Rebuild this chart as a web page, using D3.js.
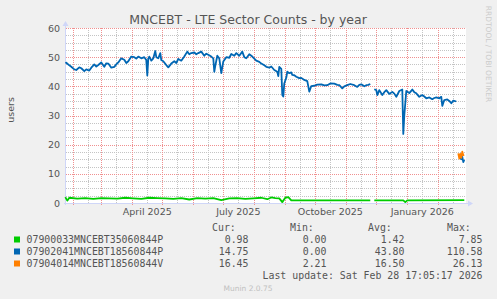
<!DOCTYPE html>
<html>
<head>
<meta charset="utf-8">
<script src="https://cdn.jsdelivr.net/npm/d3@7"></script>
<style>
  body { margin: 0; background: #f0f0f0; }
  svg { display: block; }
</style>
</head>
<body>
<svg id="drawing_region"></svg>
<script>
// values
const greenData = [
    ["2025-01-24", 2.0], ["2025-01-26", 0.8], ["2025-01-28", 1.8], ["2025-02-05", 1.5],
    ["2025-02-13", 1.7], ["2025-02-21", 1.4], ["2025-03-01", 1.7], ["2025-03-09", 1.6],
    ["2025-03-17", 1.5], ["2025-03-25", 1.8], ["2025-04-02", 1.6], ["2025-04-10", 1.4],
    ["2025-04-18", 1.8], ["2025-04-26", 1.7], ["2025-05-04", 1.6], ["2025-05-12", 1.4],
    ["2025-05-20", 1.7], ["2025-05-28", 1.2], ["2025-06-05", 1.7], ["2025-06-13", 1.5],
    ["2025-06-21", 1.7], ["2025-06-29", 1.0], ["2025-07-07", 1.6], ["2025-07-15", 1.7],
    ["2025-07-23", 1.4], ["2025-07-31", 1.6], ["2025-08-08", 1.8], ["2025-08-14", 1.3],
    ["2025-08-18", 1.9], ["2025-08-22", 1.7], ["2025-08-26", 1.6], ["2025-08-29", 0.3],
    ["2025-09-01", 1.8], ["2025-09-04", 2.0], ["2025-09-07", 0.9], ["2025-11-25", 0.9],
    ["2025-11-27", null], ["2025-11-29", 0.9], ["2025-12-28", 0.9], ["2025-12-30", 0.3],
    ["2026-01-01", 0.9], ["2026-02-27", 0.98]
];

const blueData = [
    ["2025-01-24", 48.0], ["2025-01-25", 48.1], ["2025-01-28", 47.2], ["2025-01-30", 46.7],
    ["2025-02-02", 45.8], ["2025-02-04", 45.6], ["2025-02-07", 46.5], ["2025-02-09", 46.2],
    ["2025-02-12", 45.2], ["2025-02-14", 45.8], ["2025-02-17", 45.4], ["2025-02-19", 46.4],
    ["2025-02-22", 47.5], ["2025-02-24", 46.8], ["2025-02-26", 47.3], ["2025-03-01", 48.2],
    ["2025-03-04", 46.7], ["2025-03-06", 47.9], ["2025-03-08", 47.8], ["2025-03-11", 46.4],
    ["2025-03-14", 46.7], ["2025-03-16", 47.5], ["2025-03-18", 48.2], ["2025-03-21", 49.6],
    ["2025-03-24", 49.1], ["2025-03-26", 48.0], ["2025-03-28", 48.6], ["2025-03-31", 50.2],
    ["2025-04-03", 50.0], ["2025-04-05", 49.5], ["2025-04-07", 50.2], ["2025-04-10", 49.6],
    ["2025-04-13", 50.0], ["2025-04-15", 49.0], ["2025-04-16", 43.7], ["2025-04-17", 49.5],
    ["2025-04-18", 50.2], ["2025-04-20", 48.8], ["2025-04-22", 49.6], ["2025-04-24", 52.1],
    ["2025-04-25", 50.0], ["2025-04-27", 49.6], ["2025-04-29", 51.4], ["2025-04-30", 49.0],
    ["2025-05-02", 48.6], ["2025-05-05", 47.3], ["2025-05-07", 46.5], ["2025-05-10", 47.8],
    ["2025-05-13", 48.6], ["2025-05-15", 48.0], ["2025-05-17", 49.4], ["2025-05-20", 48.8],
    ["2025-05-23", 50.2], ["2025-05-26", 51.9], ["2025-05-28", 51.0], ["2025-05-30", 51.4],
    ["2025-06-02", 51.6], ["2025-06-04", 51.0], ["2025-06-06", 51.4], ["2025-06-09", 51.9],
    ["2025-06-12", 50.5], ["2025-06-14", 51.2], ["2025-06-16", 50.8], ["2025-06-19", 50.2],
    ["2025-06-21", 49.6], ["2025-06-22", 45.0], ["2025-06-23", 47.0], ["2025-06-25", 50.5],
    ["2025-06-27", 49.6], ["2025-06-29", 44.5], ["2025-07-01", 48.5], ["2025-07-04", 50.0],
    ["2025-07-07", 49.8], ["2025-07-09", 51.1], ["2025-07-12", 50.5], ["2025-07-14", 51.4],
    ["2025-07-17", 50.5], ["2025-07-20", 51.9], ["2025-07-22", 50.0], ["2025-07-24", 49.6],
    ["2025-07-27", 51.0], ["2025-07-30", 50.2], ["2025-08-01", 49.5], ["2025-08-03", 48.8],
    ["2025-08-06", 48.4], ["2025-08-08", 47.8], ["2025-08-11", 47.2], ["2025-08-13", 46.7],
    ["2025-08-16", 46.4], ["2025-08-18", 46.8], ["2025-08-21", 45.6], ["2025-08-24", 45.0],
    ["2025-08-25", 43.5], ["2025-08-26", 46.7], ["2025-08-28", 46.0], ["2025-08-29", 37.0],
    ["2025-08-30", 36.5], ["2025-08-31", 41.0], ["2025-09-02", 43.0], ["2025-09-03", 45.0],
    ["2025-09-05", 44.5], ["2025-09-07", 44.8], ["2025-09-08", 43.9], ["2025-09-10", 43.8],
    ["2025-09-12", 43.3], ["2025-09-15", 42.8], ["2025-09-17", 42.9], ["2025-09-20", 42.2],
    ["2025-09-23", 41.8], ["2025-09-25", 38.2], ["2025-09-27", 40.1], ["2025-09-30", 40.2],
    ["2025-10-03", 40.6], ["2025-10-07", 40.7], ["2025-10-10", 40.3], ["2025-10-13", 40.4],
    ["2025-10-16", 41.0], ["2025-10-20", 40.9], ["2025-10-23", 40.5], ["2025-10-25", 40.4],
    ["2025-10-28", 39.3], ["2025-10-30", 40.0], ["2025-11-02", 40.4], ["2025-11-05", 40.8],
    ["2025-11-09", 40.4], ["2025-11-12", 39.8], ["2025-11-14", 40.5], ["2025-11-16", 40.7],
    ["2025-11-19", 40.0], ["2025-11-21", 40.4], ["2025-11-23", 40.5], ["2025-11-25", 40.8],
    ["2025-11-27", null], ["2025-11-29", 39.0], ["2025-12-01", 38.7], ["2025-12-02", 37.0],
    ["2025-12-04", 38.7], ["2025-12-07", 37.0], ["2025-12-09", 38.0], ["2025-12-11", 38.7],
    ["2025-12-14", 37.4], ["2025-12-17", 38.1], ["2025-12-19", 37.5], ["2025-12-21", 36.4],
    ["2025-12-24", 38.4], ["2025-12-27", 38.9], ["2025-12-28", 23.7], ["2025-12-29", 30.0],
    ["2025-12-31", 38.4], ["2026-01-03", 37.7], ["2026-01-06", 38.9], ["2026-01-08", 38.0],
    ["2026-01-10", 37.6], ["2026-01-13", 36.4], ["2026-01-16", 37.0], ["2026-01-18", 36.5],
    ["2026-01-20", 35.9], ["2026-01-23", 36.2], ["2026-01-26", 35.6], ["2026-01-28", 36.0],
    ["2026-01-30", 36.2], ["2026-02-02", 35.9], ["2026-02-04", 36.4], ["2026-02-05", 33.3],
    ["2026-02-07", 35.3], ["2026-02-10", 35.5], ["2026-02-12", 35.0], ["2026-02-14", 34.2],
    ["2026-02-16", 35.1], ["2026-02-19", 34.8], ["2026-02-20", null], ["2026-02-22", 16.5],
    ["2026-02-24", 15.0], ["2026-02-25", 15.8], ["2026-02-26", 14.0], ["2026-02-27", 14.75]
];

const orangeData = [
    ["2026-02-21", 17.0], ["2026-02-22", 15.2], ["2026-02-23", 16.8], ["2026-02-24", 15.5],
    ["2026-02-25", 17.6], ["2026-02-26", 16.4], ["2026-02-27", 16.45]
];

const seriesNames = ["07900033MNCEBT35060844P", "07902041MNCEBT18560844P", "07904014MNCEBT18560844V"];
const seriesColors = ["#00cc00", "#0066b3", "#ff8000"];
const curValues = ["0.98", "14.75", "16.45"];
const minValues = ["0.00", "0.00", "2.21"];
const avgValues = ["1.42", "43.80", "16.50"];
const maxValues = ["7.85", "110.58", "26.13"];
const yTicks = [0, 10, 20, 30, 40, 50, 60];
const xLabelDates = ["2025-04-15", "2025-07-15", "2025-10-15", "2026-01-15"];

const config = {
    width: 497,
    height: 299,
    margin: {left: 66, top: 28},
    plotWidth: 400,
    plotHeight: 175
};

const parse = d3.timeParse("%Y-%m-%d");
const endTime = new Date(2026, 1, 28, 17, 5, 17);
const startTime = d3.timeDay.offset(endTime, -400);

const svg = d3.select("#drawing_region")
    .attr("width", config.width)
    .attr("height", config.height)
    .style("font-family", "'DejaVu Sans', sans-serif");

svg.append("rect")
    .attr("width", config.width).attr("height", config.height)
    .attr("fill", "#f0f0f0");

const plotLeft = config.margin.left, plotTop = config.margin.top;
const plotRight = plotLeft + config.plotWidth, plotBottom = plotTop + config.plotHeight;

const xscale = d3.scaleTime().domain([startTime, endTime]).range([plotLeft, plotRight]);
const yscale = d3.scaleLinear().domain([0, 60]).range([plotBottom, plotTop]);

svg.append("rect")
    .attr("x", plotLeft).attr("y", plotTop)
    .attr("width", config.plotWidth).attr("height", config.plotHeight)
    .attr("fill", "#ffffff");

// grid
const grid = svg.append("g").attr("shape-rendering", "crispEdges");
const minorY = d3.range(0, 60.01, 2.5).filter(v => v % 10 !== 0);
const minorX = d3.timeMonth.range(d3.timeMonth.floor(startTime), endTime)
    .map(d => new Date(d.getFullYear(), d.getMonth(), 15, 12))
    .filter(d => d > startTime && d < endTime);
const majorX = d3.timeMonth.range(startTime, endTime);
const px = v => Math.round(v) + 0.5;

grid.selectAll(".minor-y").data(minorY).enter().append("line")
    .attr("x1", plotLeft).attr("x2", plotRight)
    .attr("y1", d => px(yscale(d))).attr("y2", d => px(yscale(d)))
    .attr("stroke", "#c4c4c4").attr("stroke-dasharray", "1,1");
grid.selectAll(".minor-x").data(minorX).enter().append("line")
    .attr("x1", d => px(xscale(d))).attr("x2", d => px(xscale(d)))
    .attr("y1", plotTop).attr("y2", plotBottom)
    .attr("stroke", "#c4c4c4").attr("stroke-dasharray", "1,1");
grid.selectAll(".major-y").data(yTicks.slice(1)).enter().append("line")
    .attr("x1", plotLeft).attr("x2", plotRight)
    .attr("y1", d => px(yscale(d))).attr("y2", d => px(yscale(d)))
    .attr("stroke", "#f09090").attr("stroke-dasharray", "1,1");
grid.selectAll(".major-x").data(majorX).enter().append("line")
    .attr("x1", d => px(xscale(d))).attr("x2", d => px(xscale(d)))
    .attr("y1", plotTop).attr("y2", plotBottom + 2)
    .attr("stroke", "#f09090").attr("stroke-dasharray", "1,1");

// axes (rrdtool style: plain lines with arrows)
const axisColor = "#cfd6f8";
svg.append("line")
    .attr("x1", plotLeft - 0.5).attr("x2", plotLeft - 0.5)
    .attr("y1", plotBottom + 2).attr("y2", plotTop - 4)
    .attr("stroke", axisColor);
svg.append("path")
    .attr("d", `M${plotLeft - 3.5},${plotTop - 2} L${plotLeft - 0.5},${plotTop - 7} L${plotLeft + 2.5},${plotTop - 2} Z`)
    .attr("fill", axisColor);
svg.append("line")
    .attr("x1", plotLeft - 2).attr("x2", plotRight + 4)
    .attr("y1", plotBottom + 0.5).attr("y2", plotBottom + 0.5)
    .attr("stroke", axisColor);
svg.append("path")
    .attr("d", `M${plotRight + 2},${plotBottom - 2.5} L${plotRight + 7},${plotBottom + 0.5} L${plotRight + 2},${plotBottom + 3.5} Z`)
    .attr("fill", axisColor);

// tick labels
const yaxis = d3.axisLeft(yscale).tickValues(yTicks).tickSize(0).tickPadding(6);
const yaxis_group = svg.append("g")
    .attr("transform", `translate(${plotLeft},0)`)
    .call(yaxis);
const xaxis = d3.axisBottom(xscale)
    .tickValues(xLabelDates.map(s => d3.timeHour.offset(parse(s), 12)))
    .tickFormat(d3.timeFormat("%B %Y"))
    .tickSize(0).tickPadding(5);
const xaxis_group = svg.append("g")
    .attr("transform", `translate(0,${plotBottom})`)
    .call(xaxis);
[yaxis_group, xaxis_group].forEach(g => {
    g.select(".domain").remove();
    g.selectAll("text")
        .attr("fill", "#555")
        .style("font-family", "'DejaVu Sans', sans-serif")
        .style("font-size", "9.5px");
});

// series
const line = d3.line()
    .defined(d => d[1] !== null)
    .x(d => xscale(parse(d[0])))
    .y(d => yscale(d[1]));

[greenData, blueData, orangeData].forEach((data, i) => {
    svg.append("path")
        .datum(data)
        .attr("d", line)
        .attr("fill", "none")
        .attr("stroke", seriesColors[i])
        .attr("stroke-width", 1.8)
        .attr("stroke-linejoin", "round");
});

// title and labels
svg.append("text")
    .attr("x", 248).attr("y", 24)
    .attr("text-anchor", "middle")
    .attr("fill", "#555")
    .style("font-size", "12.5px")
    .text("MNCEBT - LTE Sector Counts - by year");

svg.append("text")
    .attr("transform", "translate(14,110) rotate(-90)")
    .attr("text-anchor", "middle")
    .attr("fill", "#555")
    .style("font-size", "9.5px")
    .text("users");

svg.append("text")
    .attr("transform", "translate(486,54) rotate(90)")
    .attr("text-anchor", "middle")
    .attr("fill", "#cccccc")
    .style("font-size", "7.5px")
    .text("RRDTOOL / TOBI OETIKER");

// legend
const legend = svg.append("g")
    .style("font-family", "'DejaVu Sans Mono', monospace")
    .style("font-size", "9.9px")
    .attr("fill", "#555");

const headerX = [212, 290, 368, 447];
["Cur:", "Min:", "Avg:", "Max:"].forEach((h, i) => {
    legend.append("text").attr("x", headerX[i]).attr("y", 231).text(h);
});

const colX = [248.5, 326.5, 404.5, 482.5];
seriesNames.forEach((name, i) => {
    const y = 243 + i * 12;
    legend.append("rect")
        .attr("x", 14).attr("y", y - 6.5).attr("width", 6).attr("height", 6)
        .attr("fill", seriesColors[i]);
    legend.append("text").attr("x", 26.5).attr("y", y).text(name);
    [curValues, minValues, avgValues, maxValues].forEach((vals, j) => {
        legend.append("text")
            .attr("x", colX[j]).attr("y", y)
            .attr("text-anchor", "end")
            .text(vals[i]);
    });
});

legend.append("text")
    .attr("x", 482.5).attr("y", 279)
    .attr("text-anchor", "end")
    .text("Last update: Sat Feb 28 17:05:17 2026");

svg.append("text")
    .attr("x", 248).attr("y", 291)
    .attr("text-anchor", "middle")
    .attr("fill", "#c0c0c0")
    .style("font-size", "7.5px")
    .text("Munin 2.0.75");
</script>
</body>
</html>
